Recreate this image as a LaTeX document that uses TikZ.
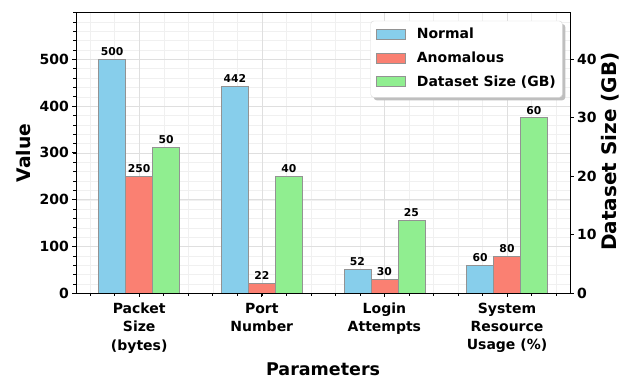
\documentclass[tikz,border=0pt]{standalone}
\usepackage{fontspec}
\setmainfont{DejaVu Sans}

\definecolor{normalBlue}{HTML}{87CEEB}
\definecolor{anomalRed}{HTML}{FA8072}
\definecolor{sizeGreen}{HTML}{90EE90}

\tikzset{%
  % Specifications for style of bars, grid and labels:
         bar/.style = {draw=gray!85, line width=0.7pt},
    barValue/.style = {anchor=base, inner sep=0pt,
                       font=\bfseries\fontsize{10.8}{12}\selectfont},
   tickLabel/.style = {inner sep=0pt,
                       font=\bfseries\fontsize{14}{18.3}\selectfont},
   axisLabel/.style = {inner sep=0pt,
                       font=\bfseries\fontsize{17.5}{20}\selectfont},
   majorGrid/.style = {gray!25, line width=0.5pt},
   minorGrid/.style = {gray!12, line width=0.4pt},
}

\begin{document}
\begin{tikzpicture}[x=1pt, y=-1pt]
  \useasboundingbox (0,0) rectangle (630,378);
  % data frame: one unit per category, left axis in values
  \begin{scope}[shift={(139.2pt,-293.3pt)}, x=122.6pt, y=0.468pt]
    % grid lines
    \begin{scope}
      \clip (-0.5155,0) rectangle (3.514,600);
      \foreach \k in {-2,...,17}
        \draw[minorGrid] (\k/5,0) -- (\k/5,600);
      \foreach \k in {1,...,29}
        \draw[minorGrid] (-0.6,\k*20) -- (3.6,\k*20);
      \foreach \k in {0,...,3}
        \draw[majorGrid] (\k,0) -- (\k,600);
      \foreach \v in {100,200,...,500}
        \draw[majorGrid] (-0.6,\v) -- (3.6,\v);
    \end{scope}
    % bars with their values
    \foreach \i/\n/\a/\g in {0/500/250/50, 1/442/22/40, 2/52/30/25, 3/60/80/60} {
      \draw[bar, fill=normalBlue] (\i-0.33,0) rectangle (\i-0.11,\n);
      \draw[bar, fill=anomalRed]  (\i-0.11,0) rectangle (\i+0.11,\a);
      \draw[bar, fill=sizeGreen]  (\i+0.11,0) rectangle (\i+0.33,6.25*\g);
      \node (normVal\i) [barValue] at ([yshift=3.5pt]\i-0.22,\n)      {\n};
      \node (anomVal\i) [barValue] at ([yshift=3.5pt]\i,\a)           {\a};
      \node (sizeVal\i) [barValue] at ([yshift=3.5pt]\i+0.22,6.25*\g) {\g};
    }
    % frame
    \draw[line width=0.9pt] (-0.5155,0) rectangle (3.514,600);
    % left axis
    \foreach \v in {20,40,...,600}
      \draw[line width=0.6pt] (-0.5155,\v) -- ++(-2.5pt,0);
    \foreach \v in {0,100,...,500} {
      \draw[line width=0.9pt] (-0.5155,\v) -- ++(-4pt,0);
      \node (yTick\v) [tickLabel, anchor=east] at ([xshift=-7pt]-0.5155,\v) {\v};
    }
    % right axis, 1 GB = 12.5
    \foreach \g in {0,10,...,40} {
      \draw[line width=0.9pt] (3.514,12.5*\g) -- ++(4pt,0);
      \node (y2Tick\g) [tickLabel, anchor=west] at ([xshift=7pt]3.514,12.5*\g) {\g};
    }
    % bottom axis
    \foreach \k in {-2,...,17}
      \draw[line width=0.6pt] (\k/5,0) -- ++(0,-2.5pt);
    \foreach \i/\txt in {0/{Packet\\Size\\(bytes)}, 1/{Port\\Number},
                         2/{Login\\Attempts}, 3/{System\\Resource\\Usage (\%)}} {
      \draw[line width=0.9pt] (\i,0) -- ++(0,-4pt);
      \node (cat\i) [tickLabel, anchor=north, align=center]
            at ([yshift=-9.5pt]\i,0) {\txt};
    }
    % axis titles
    \node (yLabel)  [axisLabel, rotate=90, font=\bfseries\fontsize{18.7}{20}\selectfont]
                    at ([xshift=-52pt]-0.5155,300) {Value};
    \node (y2Label) [axisLabel, rotate=90, font=\bfseries\fontsize{20}{22}\selectfont]
                    at ([xshift=40pt]3.514,303) {Dataset Size (GB)};
    \node (xLabel)  [axisLabel, anchor=base] at ([yshift=-81.7pt]1.5,0)
                                                    {Parameters};
  \end{scope}
  % legend
  \fill[gray!50, rounded corners=3pt] (373.7,24) rectangle (565.3,100.3);
  \draw[gray!30, fill=white, rounded corners=3pt] (370.7,21) rectangle (562.3,97.3);
  \foreach \k/\c/\t in {0/normalBlue/Normal, 1/anomalRed/Anomalous,
                        2/sizeGreen/Dataset Size (GB)} {
    \draw[bar, fill=\c] (376,29+23.85*\k) rectangle (405,39+23.85*\k);
    \node (legText\k) [tickLabel, anchor=base west] at (416.7,38.8+23.85*\k) {\t};
  }
\end{tikzpicture}
\end{document}
